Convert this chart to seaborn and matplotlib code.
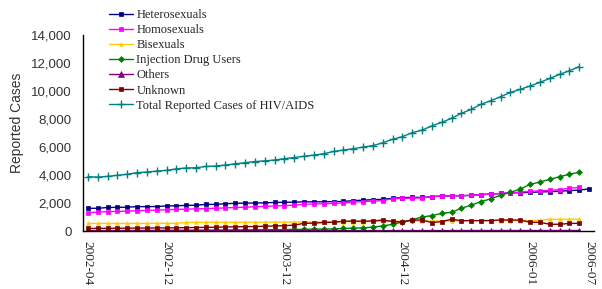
import numpy as np
import pandas as pd
import matplotlib
matplotlib.use("Agg")
import matplotlib.pyplot as plt
from matplotlib.ticker import FuncFormatter, FixedLocator
import seaborn as sns

sns.set_style("white")

# monthly categories 2002-04 .. 2006-07
months = pd.period_range("2002-04", "2006-07", freq="M").strftime("%Y-%m").tolist()
tick_labels = ["2002-04", "2002-12", "2003-12", "2004-12", "2006-01", "2006-07"]

hetero = [1620, 1620, 1680, 1690, 1700, 1740, 1740, 1750, 1790, 1800, 1830, 1840, 1900,
          1900, 1950, 1980, 1990, 2000, 2010, 2040, 2050, 2060, 2080, 2080, 2090, 2100,
          2110, 2170, 2200, 2240, 2260, 2340, 2380, 2400, 2400, 2450, 2500, 2510, 2520,
          2540, 2600, 2640, 2680, 2720, 2740, 2760, 2790, 2810, 2850, 2880, 2930, 3000]
homo = [1310, 1350, 1380, 1400, 1420, 1450, 1470, 1490, 1520, 1540, 1560, 1580, 1600,
        1620, 1650, 1680, 1700, 1730, 1760, 1790, 1810, 1850, 1900, 1930, 1950, 1980,
        2000, 2060, 2100, 2130, 2170, 2300, 2330, 2350, 2360, 2460, 2500, 2520, 2530,
        2550, 2600, 2640, 2680, 2720, 2780, 2830, 2870, 2900, 2960, 3050, 3120, None]
bisex = [540, 540, 540, 540, 540, 540, 540, 550, 550, 550, 610, 620, 620, 620, 620,
         620, 625, 625, 630, 630, 630, 640, 640, 650, 650, 660, 660, 670, 670, 680,
         700, 700, 700, 700, 710, 710, 720, 720, 720, 730, 730, 730, 740, 740, 740,
         740, 760, 840, 840, 840, 840, None]
idu = [30, 30, 35, 35, 40, 40, 45, 45, 50, 50, 55, 60, 60, 65, 70, 75, 80, 85, 90,
       95, 100, 110, 120, 130, 140, 150, 180, 200, 220, 280, 360, 480, 640, 800, 1000,
       1100, 1260, 1340, 1620, 1850, 2100, 2300, 2550, 2760, 3000, 3330, 3500, 3690,
       3880, 4050, 4200, None]
others = [20, 20, 20, 20, 20, 20, 20, 25, 25, 25, 25, 25, 25, 25, 30, 30, 30, 30, 30,
          30, 30, 30, 30, 30, 30, 30, 30, 30, 30, 30, 30, 30, 30, 30, 30, 30, 30, 30,
          35, 35, 35, 35, 35, 35, 35, 35, 35, 35, 35, 35, 35, None]
unknown = [180, 190, 190, 200, 200, 210, 210, 220, 220, 230, 240, 250, 260, 270, 290,
           300, 310, 320, 340, 360, 380, 420, 550, 560, 610, 620, 700, 710, 700, 720,
           780, 680, 640, 790, 780, 600, 670, 840, 740, 740, 740, 750, 790, 790, 780,
           620, 620, 480, 480, 540, 550, None]
total = [3880, 3850, 3900, 3980, 4050, 4170, 4210, 4280, 4330, 4440, 4500, 4520, 4610,
         4640, 4710, 4800, 4880, 4960, 5010, 5070, 5170, 5250, 5340, 5420, 5520, 5680,
         5780, 5880, 5990, 6100, 6300, 6550, 6740, 7020, 7210, 7500, 7760, 8050, 8400,
         8690, 9050, 9310, 9590, 9900, 10120, 10360, 10620, 10900, 11190, 11450, 11740, None]

names = ["Heterosexuals", "Homosexuals", "Bisexuals", "Injection Drug Users",
         "Others", "Unknown", "Total Reported Cases of HIV/AIDS"]
series = [hetero, homo, bisex, idu, others, unknown, total]
colors = ["#000080", "#FF00FF", "#FFCC00", "#008000", "#800080", "#800000", "#008080"]
markers = ["s", "s", "^", "D", "^", "s", "+"]
msizes = [2.3, 2.3, 2.6, 3, 4.5, 2.3, 5.5]

rows = []
for name, vals in zip(names, series):
    for i, v in enumerate(vals):
        rows.append({"idx": i, "series": name, "value": np.nan if v is None else v})
df = pd.DataFrame(rows).dropna()

fig = plt.figure(figsize=(6.02, 2.89), dpi=100)
ax = fig.add_axes([83 / 602, 1 - 231 / 289, 511 / 602, 196 / 289])

for name, c, m, ms in zip(names, colors, markers, msizes):
    sub = df[df["series"] == name]
    sns.lineplot(data=sub, x="idx", y="value", ax=ax, color=c, marker=m,
                 markersize=ms, markeredgecolor=c, markeredgewidth=1 if m == "+" else 0.5,
                 linewidth=1, label=name, legend=False)

ax.set_xlim(-0.5, len(months) - 0.5)
ax.set_ylim(0, 14000)
ax.set_yticks(np.arange(0, 14001, 2000))
ax.yaxis.set_major_formatter(FuncFormatter(lambda v, p: f"{int(v):,}"))
ax.tick_params(axis="y", direction="in", length=4, width=1, labelsize=9.5,
               labelcolor="#333333", pad=8)
for t in ax.get_yticklabels():
    t.set_family("Liberation Sans")

tick_pos = [months.index(t) for t in tick_labels]
ax.set_xticks(tick_pos)
ax.set_xticklabels(tick_labels, rotation=-90, family="Liberation Serif", fontsize=9.5)
ax.tick_params(axis="x", length=0, pad=7)
ax.xaxis.set_minor_locator(FixedLocator(np.arange(-0.5, len(months), 1.0)))
ax.tick_params(axis="x", which="minor", direction="in", length=3, width=0.8)

ax.set_xlabel("")
ax.set_ylabel("Reported Cases", family="Liberation Sans", fontsize=10,
              color="#333333")
ax.yaxis.set_label_coords(-0.115, 0.55)

for s in ["top", "right"]:
    ax.spines[s].set_visible(False)
for s in ["left", "bottom"]:
    ax.spines[s].set_color("black")
    ax.spines[s].set_linewidth(1)

handles = ax.get_lines()[:len(names)]
fig.legend(handles, names, loc="upper left", bbox_to_anchor=(104 / 602, 1 - 4 / 289),
           frameon=False, prop={"family": "Liberation Serif", "size": 9},
           handlelength=1.9, handletextpad=0.3, labelspacing=0.25, borderaxespad=0)

fig.savefig("out.png", dpi=100)
